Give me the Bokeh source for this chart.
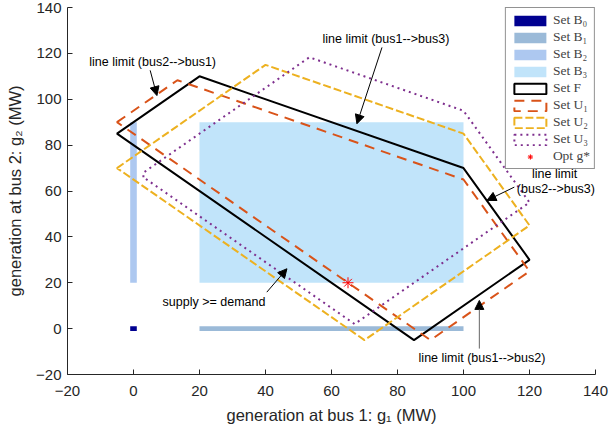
from bokeh.plotting import figure
from bokeh.models import (Range1d, FixedTicker, Arrow, NormalHead, Label, Legend, LegendItem)
from bokeh.embed import file_html
from bokeh.resources import INLINE

# ---- data ----
ticks = [-20, 0, 20, 40, 60, 80, 100, 120, 140]

# box sets: [left, right, bottom, top]
B0 = [-1, 1, -1, 1]
B1 = [20, 100, -1, 1]
B2 = [-1, 1, 20, 90]
B3 = [20, 100, 20, 90]

F_x = [-5, 20, 100, 120, 85]
F_y = [85, 110, 70, 30, -5]
U1_x = [-5, 13.3, 100, 120, 90]
U1_y = [90, 108.3, 65, 25, -5]
U2_x = [-5, 40, 100, 120, 70]
U2_y = [70, 115, 85, 45, -5]
U3_x = [3, 3, 53.3, 100, 120, 67]
U3_y = [66, 68, 118.3, 95, 55, 2]

opt_x = [65]
opt_y = [20]

ann_text = ["line limit (bus2-->bus1)", "line limit (bus1-->bus3)", "line limit",
            "(bus2-->bus3)", "supply >= demand", "line limit (bus1-->bus2)"]
ann_x = [5.8, 76.5, 127.6, 128.0, 24.4, 105.6]
ann_y = [116.1, 126.3, 67.5, 61.0, 11.6, -12.6]

arr_x0 = [5.05, 75.3, 115.4, 40.4, 104.8]
arr_y0 = [112.6, 122.6, 61.7, 15.9, -8.7]
arr_x1 = [7.1, 67.7, 107.1, 46.5, 104.8]
arr_y1 = [101.6, 89.3, 55.9, 26.1, 12.3]
arr_col = ["black", "black", "black", "black", "#666666"]

# ---- figure ----
p = figure(width=610, height=427, output_backend="svg", toolbar_location=None,
           x_range=Range1d(-20, 140), y_range=Range1d(-20, 140),
           min_border_left=67, min_border_right=15, min_border_top=7, min_border_bottom=53)
p.outline_line_color = None
p.grid.visible = False

AX = "#262626"
for ax in (p.xaxis[0], p.yaxis[0]):
    ax.ticker = FixedTicker(ticks=ticks)
    ax.major_tick_in = 5
    ax.major_tick_out = 0
    ax.minor_tick_line_color = None
    ax.axis_line_color = AX
    ax.major_tick_line_color = AX
    ax.major_label_text_color = AX
    ax.major_label_text_font = "Liberation Sans"
    ax.major_label_text_font_size = "15px"
    ax.axis_label_text_font = "Liberation Sans"
    ax.axis_label_text_font_size = "16.5px"
    ax.axis_label_text_font_style = "normal"
    ax.axis_label_text_color = AX
p.xaxis.axis_label = "generation at bus 1: g\u2081 (MW)"
p.yaxis.axis_label = "generation at bus 2: g\u2082 (MW)"
p.xaxis.major_label_standoff = 11
p.yaxis.major_label_standoff = 6
p.xaxis.axis_label_standoff = 7
p.yaxis.axis_label_standoff = 9

def box(b, color):
    return p.quad(left=[b[0]], right=[b[1]], bottom=[b[2]], top=[b[3]],
                  fill_color=color, line_color=None)

r_b3 = box(B3, "#C1E4FA")
r_b2 = box(B2, "#ADC8F0")
r_b1 = box(B1, "#9BBAD8")
r_b0 = box(B0, "#000090")

r_f = p.patch(F_x, F_y, fill_color=None, line_color="black", line_width=2)
r_u1 = p.patch(U1_x, U1_y, fill_color=None, line_color="#D95319", line_width=2,
               line_dash="10 7")
r_u2 = p.patch(U2_x, U2_y, fill_color=None, line_color="#EDB120", line_width=2,
               line_dash="8 3")
r_u3 = p.patch(U3_x, U3_y, fill_color=None, line_color="#7E2F8E", line_width=2,
               line_dash="2 4")
r_opt = p.scatter(opt_x, opt_y, marker="asterisk", size=11, line_color="red",
                  line_width=1)

for i in range(len(arr_x0)):
    p.add_layout(Arrow(x_start=arr_x0[i], y_start=arr_y0[i], x_end=arr_x1[i], y_end=arr_y1[i],
                       line_color=arr_col[i], line_width=1,
                       end=NormalHead(size=9, fill_color="black", line_color="black",
                                      line_width=1)))
for i in range(len(ann_text)):
    p.add_layout(Label(x=ann_x[i], y=ann_y[i], text=ann_text[i], text_align="center",
                       text_baseline="middle", text_font="Liberation Sans",
                       text_font_size="12.5px", text_color="black"))

items = [
    LegendItem(label="Set B\u2080", renderers=[r_b0]),
    LegendItem(label="Set B\u2081", renderers=[r_b1]),
    LegendItem(label="Set B\u2082", renderers=[r_b2]),
    LegendItem(label="Set B\u2083", renderers=[r_b3]),
    LegendItem(label="Set F", renderers=[r_f]),
    LegendItem(label="Set U\u2081", renderers=[r_u1]),
    LegendItem(label="Set U\u2082", renderers=[r_u2]),
    LegendItem(label="Set U\u2083", renderers=[r_u3]),
    LegendItem(label="Opt g*", renderers=[r_opt]),
]
legend = Legend(items=items, location="top_right", glyph_width=40, glyph_height=13,
                label_height=15, spacing=1, padding=4, margin=0, label_standoff=3,
                label_text_font="Liberation Serif", label_text_font_size="13.5px",
                label_text_line_height=1.0,
                border_line_color=AX, border_line_width=1, background_fill_alpha=1)
p.add_layout(legend)

open("out.html", "w").write(file_html(p, INLINE))
